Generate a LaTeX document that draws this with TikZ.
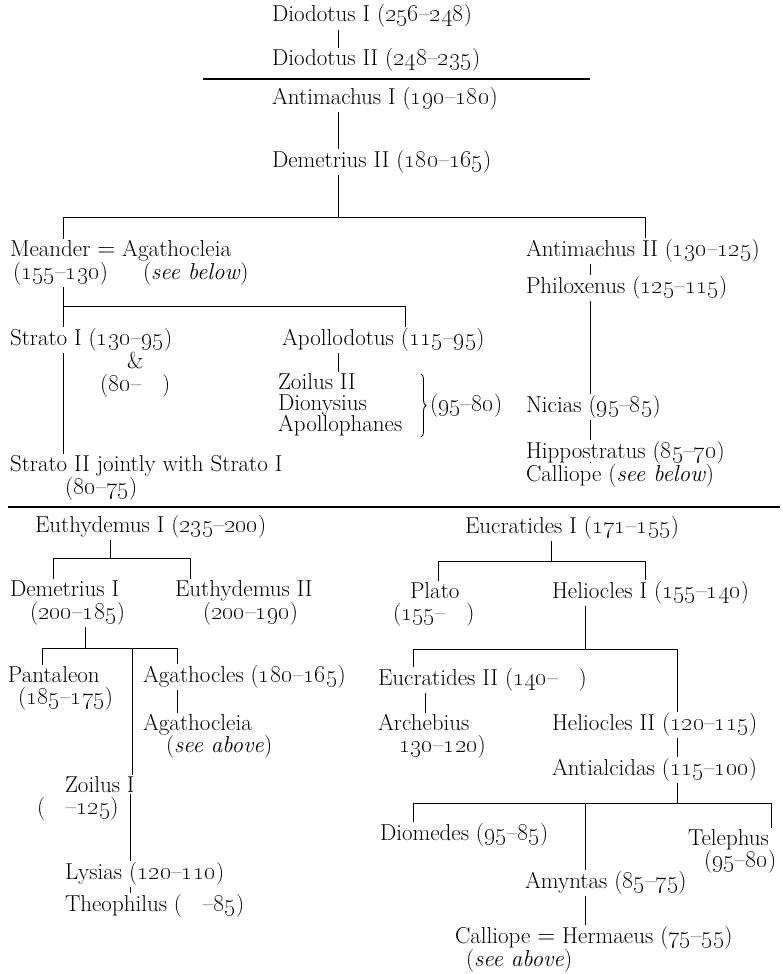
\documentclass[tikz,border=0pt]{standalone}
\usetikzlibrary{calc,decorations.pathreplacing}
\newcommand\os[1]{\oldstylenums{#1}}
\newcommand\gapp{\hspace{0.9em}}
\tikzset{
  lbl/.style={anchor=base west, inner sep=0pt, outer sep=0pt, font=\fontsize{23}{26}\selectfont},
  ln/.style={line width=0.75pt},
  heavy/.style={line width=2.3pt},
  tick/.style={ln, shorten <=2pt, shorten >=1pt}
}
\begin{document}
\begin{tikzpicture}[x=1pt,y=-1pt]
\path[use as bounding box] (0,0) rectangle (783,974);
% ---------- upper block ----------
\node[lbl] (d1) at (272,22) {Diodotus I (\os{256}--\os{248})};
\node[lbl] (d2) at (272,66) {Diodotus II (\os{248}--\os{235})};
\node[lbl] (a1) at (272,104) {Antimachus I (\os{190}--\os{180})};
\node[lbl] (dm2) at (272,167) {Demetrius II (\os{180}--\os{165})};
\node[lbl] (mean) at (10,256) {Meander $=$ Agathocleia};
\node[lbl] (mean2) at (13,279) {(\os{155}--\os{130})};
\node[lbl] (seeb1) at (143,279) {(\textit{see below})};
\node[lbl] (am2) at (526,256) {Antimachus II (\os{130}--\os{125})};
\node[lbl] (ph) at (526,293) {Philoxenus (\os{125}--\os{115})};
\node[lbl] (ni) at (526,412) {Nicias (\os{95}--\os{85})};
\node[lbl] (hi) at (526,458) {Hippostratus (\os{85}--\os{70})};
\node[lbl] (ca) at (526,481) {Calliope (\textit{see below})};
\node[lbl] (st1) at (10,345) {Strato I (\os{130}--\os{95})};
\node[lbl] (amp) at (127,368) {\&};
\node[lbl] (st1b) at (100,391) {(\os{80}--\gapp)};
\node[lbl] (apo) at (282,345) {Apollodotus (\os{115}--\os{95})};
\node[lbl] (zo2) at (278,389) {Zoilus II};
\node[lbl] (dio) at (278,410) {Dionysius};
\node[lbl] (apph) at (278,431) {Apollophanes};
\node[lbl] (p9580) at (430,411) {(\os{95}--\os{80})};
\node[lbl] (st2) at (10,471) {Strato II jointly with Strato I};
\node[lbl] (st2b) at (65,494) {(\os{80}--\os{75})};
% ---------- lower left ----------
\node[lbl] (eu1) at (35,532) {Euthydemus I (\os{235}--\os{200})};
\node[lbl] (de1) at (10,596) {Demetrius I};
\node[lbl] (de1b) at (30,619) {(\os{200}--\os{185})};
\node[lbl] (eu2) at (175,596) {Euthydemus II};
\node[lbl] (eu2b) at (203,619) {(\os{200}--\os{190})};
\node[lbl] (pan) at (8,682) {Pantaleon};
\node[lbl] (panb) at (18,704) {(\os{185}--\os{175})};
\node[lbl] (ag) at (143,682) {Agathocles (\os{180}--\os{165})};
\node[lbl] (agc) at (143,730) {Agathocleia};
\node[lbl] (agcb) at (166,752) {(\textit{see above})};
\node[lbl] (zo1) at (65,792) {Zoilus I};
\node[lbl] (zo1b) at (37,814) {(\gapp--\os{125})};
\node[lbl] (ly) at (65,879) {Lysias (\os{120}--\os{110})};
\node[lbl] (th) at (65,911) {Theophilus (\gapp--\os{85})};
% ---------- lower right ----------
\node[lbl] (ec1) at (465,533) {Eucratides I (\os{171}--\os{155})};
\node[lbl] (pl) at (410,598) {Plato};
\node[lbl] (plb) at (393,620) {(\os{155}--\gapp)};
\node[lbl] (he1) at (552,598) {Heliocles I (\os{155}--\os{140})};
\node[lbl] (ec2) at (378,685) {Eucratides II (\os{140}--\gapp)};
\node[lbl] (arc) at (378,730) {Archebius};
\node[lbl] (arcb) at (399,752) {\os{130}--\os{120})};
\node[lbl] (he2) at (552,730) {Heliocles II (\os{120}--\os{115})};
\node[lbl] (ant) at (552,775) {Antialcidas (\os{115}--\os{100})};
\node[lbl] (dio2) at (380,840) {Diomedes (\os{95}--\os{85})};
\node[lbl] (tel) at (688,845) {Telephus};
\node[lbl] (telb) at (704,867) {(\os{95}--\os{80})};
\node[lbl] (amy) at (525,888) {Amyntas (\os{85}--\os{75})};
\node[lbl] (cal) at (455,943) {Calliope $=$ Hermaeus (\os{75}--\os{55})};
\node[lbl] (calb) at (466,966) {(\textit{see above})};
% ---------- coordinates ----------
\coordinate (xa) at (338,0);
\coordinate (xb) at (63,0);
\coordinate (xd) at (590,0);
\coordinate (b1l) at (63,217);
\coordinate (b1r) at (645,217);
\coordinate (b1m) at (338,217);
\coordinate (b2l) at (63,306);
\coordinate (b2r) at (405,306);
\coordinate (r1a) at (203,79);
\coordinate (r1b) at (590,79);
\coordinate (r2a) at (8,507);
\coordinate (r2b) at (780,507);
\coordinate (b3l) at (53,558);
\coordinate (b3r) at (190,558);
\coordinate (b3m) at (110,558);
\coordinate (b4l) at (42,648);
\coordinate (b4r) at (177,648);
\coordinate (b4m) at (85,648);
\coordinate (b4z) at (132,648);
\coordinate (xz) at (130,0);
\coordinate (b5l) at (438,561);
\coordinate (b5r) at (645,561);
\coordinate (b5m) at (551,561);
\coordinate (b6l) at (413,649);
\coordinate (b6r) at (677,649);
\coordinate (b6m) at (585,649);
\coordinate (xf) at (425,0);
\coordinate (b7l) at (413,803);
\coordinate (b7r) at (771,803);
\coordinate (b7m) at (677,803);
\coordinate (b7c) at (585,803);
\coordinate (bra) at (421,374);
\coordinate (brb) at (421,437);
% ---------- heavy rules ----------
\draw[heavy] (r1a) -- (r1b);
\draw[heavy] (r2a) -- (r2b);
% ---------- upper connectors ----------
\draw[tick] (xa |- d1.south) -- (xa |- d2.north);
\draw[tick] (xa |- a1.south) -- (xa |- dm2.north);
\draw[ln, shorten <=2pt] (xa |- dm2.south) -- (b1m);
\draw[ln] (b1l) -- (b1r);
\draw[ln, shorten >=1pt] (b1l) -- (mean.north -| b1l);
\draw[ln, shorten >=1pt] (b1r) -- (b1r |- am2.north);
\draw[tick] (xd |- am2.south) -- (xd |- ph.north);
\draw[tick] (xd |- ph.south) -- (xd |- ni.north);
\draw[tick] (xd |- ni.south) -- (xd |- hi.north);
\draw[tick] (xd |- hi.south) -- (xd |- ca.north);
\draw[tick] (xb |- mean2.south) -- (xb |- st1.north);
\draw[tick] (xb |- st1.south) -- (xb |- st2.north);
\draw[ln] (b2l) -- (b2r);
\draw[ln, shorten >=1pt] (b2r) -- (b2r |- apo.north);
\draw[tick] (xa |- apo.south) -- (xa |- zo2.north);
\draw[decorate, decoration={brace, amplitude=5pt}, line width=0.9pt] (bra) -- (brb);
% ---------- lower left connectors ----------
\draw[ln, shorten <=2pt] (b3m |- eu1.south) -- (b3m);
\draw[ln] (b3l) -- (b3r);
\draw[ln, shorten >=1pt] (b3l) -- (b3l |- de1.north);
\draw[ln, shorten >=1pt] (b3r) -- (b3r |- eu2.north);
\draw[ln, shorten <=2pt] (b4m |- de1b.south) -- (b4m);
\draw[ln] (b4l) -- (b4r);
\draw[ln, shorten >=1pt] (b4l) -- (b4l |- pan.north);
\draw[ln, shorten >=1pt] (b4r) -- (b4r |- ag.north);
\draw[ln, shorten >=1pt] (b4z) -- (b4z |- zo1.north);
\draw[tick] (b4r |- ag.south) -- (b4r |- agc.north);
\draw[tick] (xz |- zo1.south) -- (xz |- ly.north);
\draw[tick] (xz |- ly.south) -- (xz |- th.north);
% ---------- lower right connectors ----------
\draw[ln, shorten <=2pt] (b5m |- ec1.south) -- (b5m);
\draw[ln] (b5l) -- (b5r);
\draw[ln, shorten >=1pt] (b5l) -- (b5l |- pl.north);
\draw[ln, shorten >=1pt] (b5r) -- (b5r |- he1.north);
\draw[ln, shorten <=2pt] (b6m |- he1.south) -- (b6m);
\draw[ln] (b6l) -- (b6r);
\draw[ln, shorten >=1pt] (b6l) -- (b6l |- ec2.north);
\draw[ln, shorten >=1pt] (b6r) -- (b6r |- he2.north);
\draw[tick] (xf |- ec2.south) -- (xf |- arc.north);
\draw[tick] (b7m |- he2.south) -- (b7m |- ant.north);
\draw[ln, shorten <=2pt] (b7m |- ant.south) -- (b7m);
\draw[ln] (b7l) -- (b7r);
\draw[ln, shorten >=1pt] (b7l) -- (b7l |- dio2.north);
\draw[ln, shorten >=1pt] (b7r) -- (b7r |- tel.north);
\draw[ln, shorten >=1pt] (b7c) -- (b7c |- amy.north);
\draw[tick] (b7c |- amy.south) -- (b7c |- cal.north);
\end{tikzpicture}
\end{document}
